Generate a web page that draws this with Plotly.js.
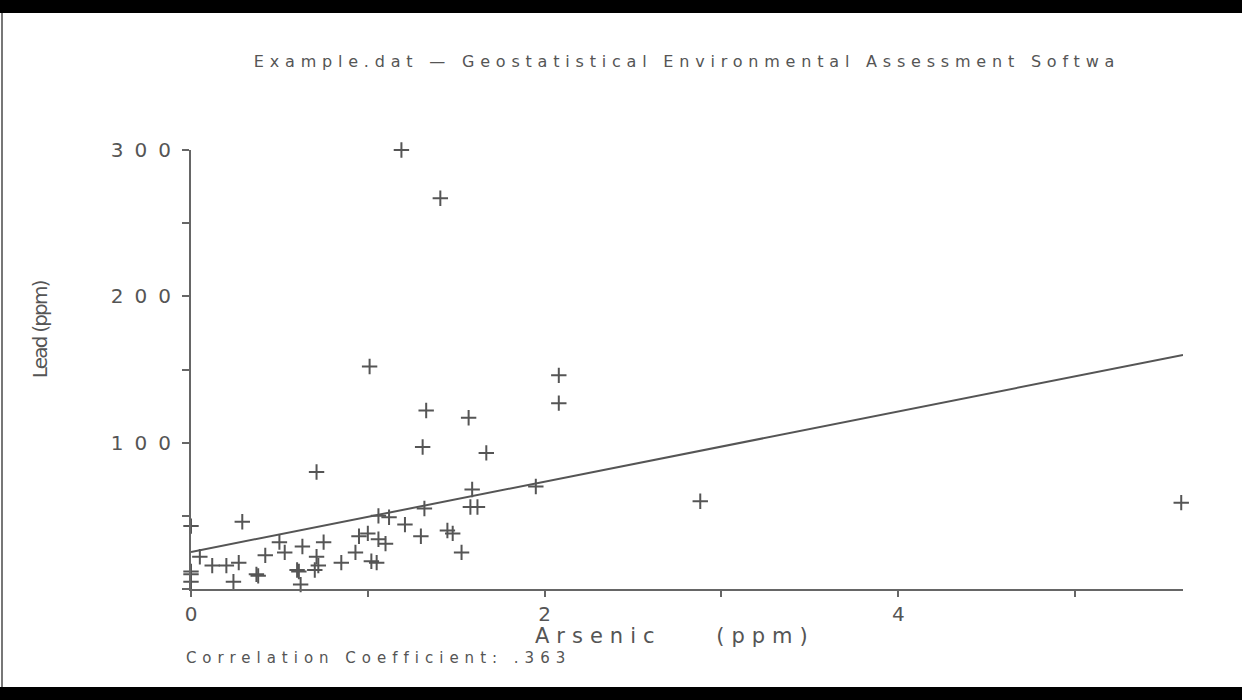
<!DOCTYPE html>
<html>
<head>
<meta charset="utf-8">
<script src="https://cdn.plot.ly/plotly-3.0.1.min.js"></script>
<style>
html,body{margin:0;padding:0;background:#fff;}
#wrap{position:relative;width:1242px;height:700px;overflow:hidden;background:#fff;}
#chart{position:absolute;left:0;top:0;width:1242px;height:700px;}
.band{position:absolute;left:0;width:1242px;background:#000;z-index:5;}
.edge{position:absolute;left:1px;width:2px;background:#777;z-index:5;}
#chart .gtitle{letter-spacing:5.8px;}
#chart .ytick text{letter-spacing:11px;}
#chart g.annotation[data-index="0"] text{letter-spacing:7px;}
#chart g.annotation[data-index="1"] text{letter-spacing:-1.8px;}
#chart g.annotation[data-index="2"] text{letter-spacing:6px;}
</style>
</head>
<body>
<div id="wrap">
  <div id="chart"></div>
  <div class="band" style="top:0;height:13px;"></div>
  <div class="edge" style="top:13px;height:674px;"></div>
  <div class="band" style="top:687px;height:13px;"></div>
</div>
<script>
// Arsenic (ppm) vs Lead (ppm) sample values
const arsenic = [1.19, 1.41, 1.01, 2.08, 2.08, 1.33, 1.57, 1.31, 1.67, 0.71,
                 1.95, 1.59, 2.88, 5.60, 0.29, 0.00, 1.58, 1.62, 1.32, 1.06,
                 1.12, 1.21, 1.45, 1.48, 1.00, 0.95, 1.30, 1.06, 1.10, 0.50,
                 0.75, 0.63, 1.53, 0.93, 0.53, 0.42, 0.05, 0.27, 0.12, 0.20,
                 0.85, 1.02, 1.05, 0.71, 0.72, 0.70, 0.60, 0.61, 0.37, 0.38,
                 0.62, 0.24, 0.00, 0.00, 0.00];
const lead = [300, 267, 152, 146, 127, 122, 117, 97, 93, 80,
              70, 68, 60, 59, 46, 43, 56, 56, 55, 50,
              49, 44, 40, 38, 38, 36, 36, 34, 31, 32,
              32, 29, 25, 25, 25, 23, 22, 18, 16, 16,
              18, 19, 18, 22, 16, 13, 13, 12, 10, 9,
              3, 5, 12, 10, 5];

// Regression line end points
const fitX = [0, 5.61];
const fitY = [25.3, 160];

const xTickVals = [0, 1, 2, 3, 4, 5];
const xTickText = ['0', '', '2', '', '4', ''];
const yTickVals = [0, 50, 100, 150, 200, 250, 300];
const yTickText = ['', '', '100', '', '200', '', '300'];

const titleText = 'Example.dat \u2014 Geostatistical Environmental Assessment Softwa';
const xTitle = 'Arsenic\u00a0\u00a0\u00a0\u00a0(ppm)';
const yTitle = 'Lead (ppm)';
const corrText = 'Correlation Coefficient: .363';

const ink = '#555555';
const fontFam = 'DejaVu Sans, sans-serif';

const traces = [
  {
    type: 'scatter', mode: 'markers', x: arsenic, y: lead,
    marker: {symbol: 'cross-thin-open', size: 11, color: ink, line: {color: ink, width: 2}},
    cliponaxis: false, showlegend: false, hoverinfo: 'x+y'
  },
  {
    type: 'scatter', mode: 'lines', x: fitX, y: fitY,
    line: {color: ink, width: 2}, cliponaxis: false, showlegend: false, hoverinfo: 'skip'
  }
];

const layout = {
  width: 1242, height: 700,
  margin: {l: 191, r: 59, t: 150, b: 111},
  paper_bgcolor: '#ffffff', plot_bgcolor: '#ffffff',
  showlegend: false,
  title: {
    text: titleText, x: 0.5, xref: 'paper', xanchor: 'center',
    y: 0.913, yref: 'container', yanchor: 'middle',
    font: {family: fontFam, size: 16, color: ink}
  },
  xaxis: {
    range: [0, 5.61], tickmode: 'array', tickvals: xTickVals, ticktext: xTickText,
    showgrid: false, zeroline: false, showline: true, linecolor: '#666', linewidth: 2,
    ticks: 'outside', ticklen: 6, tickwidth: 2, tickcolor: '#666',
    tickfont: {family: fontFam, size: 20, color: ink}
  },
  yaxis: {
    range: [0, 300], tickmode: 'array', tickvals: yTickVals, ticktext: yTickText,
    showgrid: false, zeroline: false, showline: true, linecolor: '#666', linewidth: 2,
    ticks: 'outside', ticklen: 7, tickwidth: 2, tickcolor: '#666',
    ticklabelstandoff: -4,
    tickfont: {family: fontFam, size: 20, color: ink}
  },
  annotations: [
    {
      text: xTitle, xref: 'paper', yref: 'paper', x: 0.488, y: -0.107,
      xanchor: 'center', yanchor: 'middle', showarrow: false,
      font: {family: fontFam, size: 21, color: ink}
    },
    {
      text: yTitle, xref: 'paper', yref: 'paper', x: -0.152, y: 0.59, textangle: -90,
      xanchor: 'center', yanchor: 'middle', showarrow: false,
      font: {family: fontFam, size: 20, color: ink}
    },
    {
      text: corrText, xref: 'paper', yref: 'paper', x: 0.189, y: -0.157,
      xanchor: 'center', yanchor: 'middle', showarrow: false,
      font: {family: fontFam, size: 15, color: ink}
    }
  ]
};

Plotly.newPlot('chart', traces, layout, {displayModeBar: false, staticPlot: true});
</script>
</body>
</html>
